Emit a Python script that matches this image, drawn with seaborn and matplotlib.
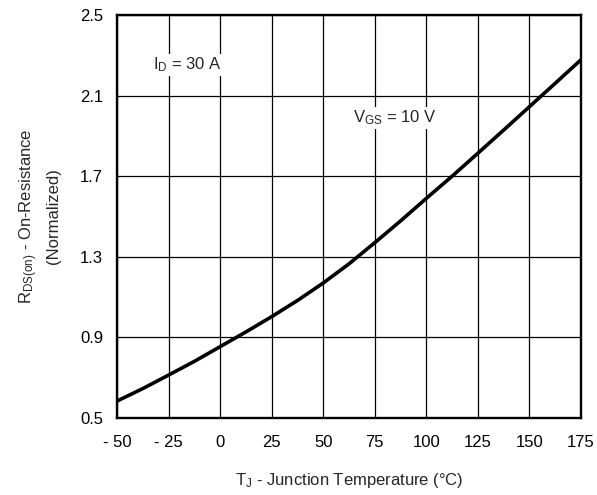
import matplotlib
matplotlib.use("Agg")
import matplotlib.pyplot as plt
import seaborn as sns
import pandas as pd

# Normalized on-resistance vs junction temperature
temperature = [-50, -37.5, -25, -12.5, 0, 12.5, 25, 37.5, 50, 62.5,
               75, 87.5, 100, 112.5, 125, 137.5, 150, 162.5, 175]
rds_norm = [0.584, 0.646, 0.713, 0.781, 0.854, 0.927, 1.003, 1.083, 1.170, 1.265,
            1.370, 1.478, 1.590, 1.700, 1.814, 1.929, 2.045, 2.161, 2.278]

x_ticks = [-50, -25, 0, 25, 50, 75, 100, 125, 150, 175]
x_tick_labels = ["- 50", "- 25", "0", "25", "50", "75", "100", "125", "150", "175"]
y_ticks = [0.5, 0.9, 1.3, 1.7, 2.1, 2.5]

sns.set_theme(style="white")
plt.rcParams["font.family"] = ["Liberation Sans", "DejaVu Sans"]
plt.rcParams["mathtext.default"] = "regular"

df = pd.DataFrame({"T": temperature, "R": rds_norm})

fig = plt.figure(figsize=(5.97, 4.95), dpi=100)
ax = fig.add_axes([117 / 597, 1 - 418 / 495, 464 / 597, 403 / 495])

sns.lineplot(data=df, x="T", y="R", ax=ax, color="black", linewidth=2.6)

ax.set_xlim(-50, 175)
ax.set_ylim(0.5, 2.5)
ax.set_xticks(x_ticks)
ax.set_xticklabels(x_tick_labels)
ax.set_yticks(y_ticks)
ax.set_yticklabels([f"{v:.1f}" for v in y_ticks])
ax.grid(True, color="black", linewidth=0.9)
ax.set_axisbelow(True)
for s in ax.spines.values():
    s.set_color("black")
    s.set_linewidth(1.7)
ax.tick_params(axis="both", length=0, labelsize=12, colors="black")
ax.tick_params(axis="x", pad=12)
ax.tick_params(axis="y", pad=10)

ax.set_xlabel("$T_J$ - Junction Temperature (°C)", fontsize=12, labelpad=15)
ax.set_ylabel("$R_{DS(on)}$ - On-Resistance\n(Normalized)", fontsize=12,
              labelpad=14, linespacing=1.5)

box = dict(facecolor="white", edgecolor="none", pad=1.5)
ax.text(-32.5, 2.252, "$I_D$ = 30 A", fontsize=12, va="center", ha="left", bbox=box)
ax.text(64.5, 1.989, "$V_{GS}$ = 10 V", fontsize=12, va="center", ha="left", bbox=box)

fig.savefig("out.png", dpi=100)
